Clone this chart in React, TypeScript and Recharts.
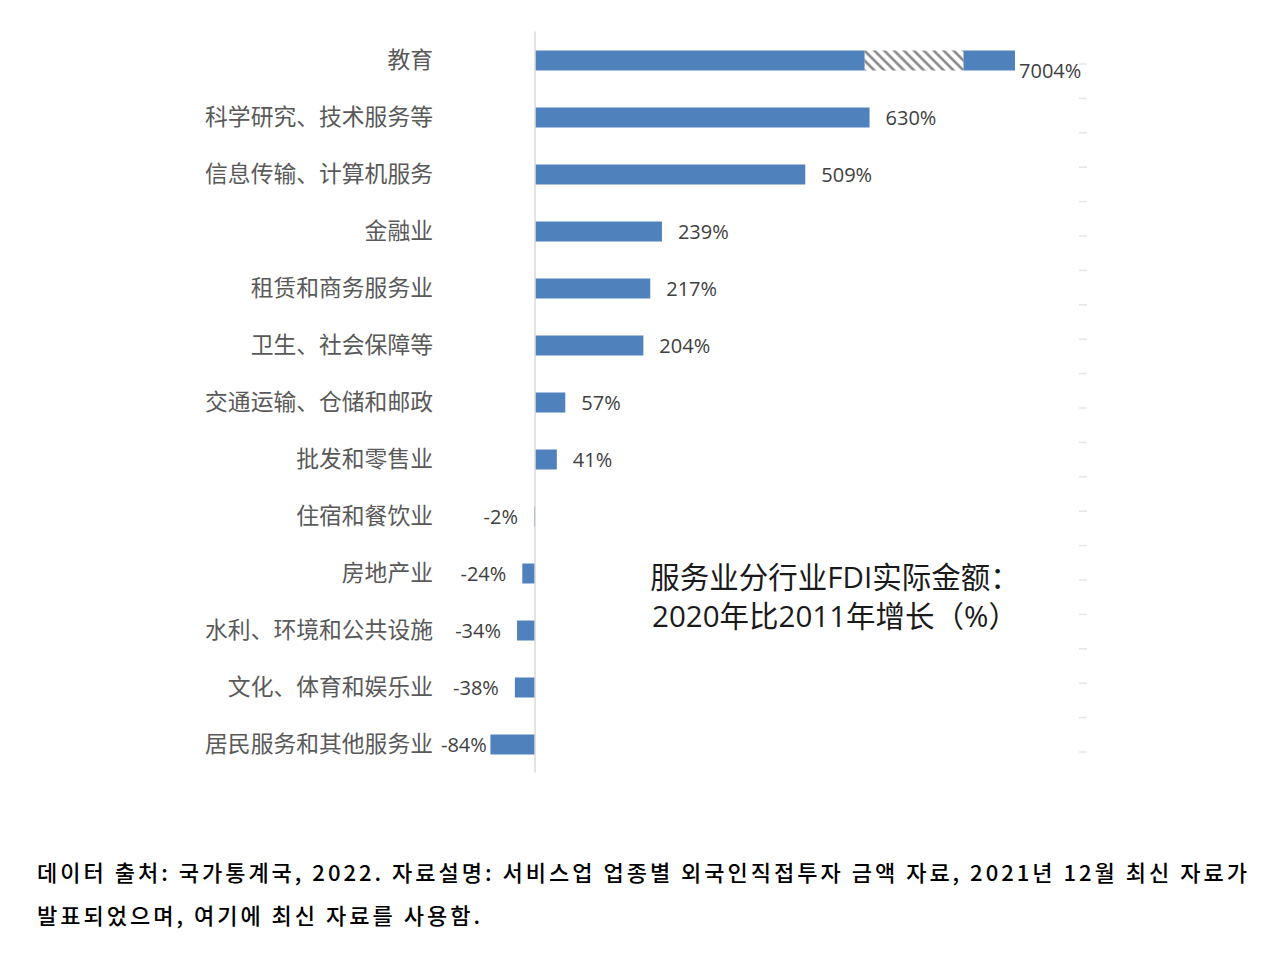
import React from 'react';
import { BarChart, Bar, XAxis, YAxis, ReferenceLine, LabelList } from 'recharts';

// ---------- data ----------
const categories = [
  '教育',
  '科学研究、技术服务等',
  '信息传输、计算机服务',
  '金融业',
  '租赁和商务服务业',
  '卫生、社会保障等',
  '交通运输、仓储和邮政',
  '批发和零售业',
  '住宿和餐饮业',
  '房地产业',
  '水利、环境和公共设施',
  '文化、体育和娱乐业',
  '居民服务和其他服务业',
];
const growthPct = [7004, 630, 509, 239, 217, 204, 57, 41, -2, -24, -34, -38, -84];
// 教育 is drawn with a broken bar: solid part, break (hatched) part, solid part (axis units)
const eduDrawnParts = [621, 186, 97];
const rightAxisTicks = [0, 1, 2, 3, 4, 5, 6, 7, 8, 9, 10, 11, 12, 13, 14, 15, 16, 17, 18, 19, 20];
const titleLines = ['服务业分行业FDI实际金额：', '2020年比2011年增长（%）'];
const footnoteLines = [
  '데이터 출처: 국가통계국, 2022. 자료설명: 서비스업 업종별 외국인직접투자 금액 자료, 2021년 12월 최신 자료가',
  '발표되었으며, 여기에 최신 자료를 사용함.',
];

const data = categories.map((name, i) => {
  const broken = i === 0;
  return {
    name,
    labelMain: broken ? undefined : `${growthPct[i]}%`,
    labelBroken: broken ? `${growthPct[i]}%` : undefined,
    seg1: broken ? eduDrawnParts[0] : growthPct[i],
    seg2: broken ? eduDrawnParts[1] : 0,
    seg3: broken ? eduDrawnParts[2] : 0,
  };
});
const rightAxisData = [{ k: 'r', v: 0 }];

// ---------- styles ----------
const BAR_COLOR = '#4F81BD';
const LABEL_FONT = 20;
const LABEL_LEFT_LIMIT = 436;
const LABEL_RIGHT_LIMIT = 1083;
const CHART_MARGIN = { top: 31.5, right: 201, bottom: 27.5, left: 0 };
const OVERLAY_MARGIN = { top: 31.5, right: 0, bottom: 27.5, left: 440 };

const estimateWidth = (t: string) => {
  let w = 0;
  for (const ch of t) w += ch === '%' ? LABEL_FONT * 0.83 : LABEL_FONT * 0.57;
  return w;
};

const renderValueLabel = (props: any) => {
  const { x, y, width, height, value } = props;
  if (value === undefined || value === null || value === '') return null;
  const text = String(value);
  const w = estimateWidth(text);
  const cy = Number(y) + Number(height) / 2;
  const left = Math.min(Number(x), Number(x) + Number(width));
  const right = Math.max(Number(x), Number(x) + Number(width));
  if (text.startsWith('-')) {
    const end = Math.max(left - 16, LABEL_LEFT_LIMIT + w);
    return (
      <text x={end} y={cy} textAnchor="end" dominantBaseline="central" fontSize={LABEL_FONT}
        fontFamily="'Open Sans', 'Noto Sans', sans-serif" fill="#404040">{text}</text>
    );
  }
  let start = right + 16;
  let dy = 0;
  if (start + w > LABEL_RIGHT_LIMIT) {
    start = right + 4;
    dy = 10;
  }
  return (
    <text x={start} y={cy + dy} textAnchor="start" dominantBaseline="central" fontSize={LABEL_FONT}
      fontFamily="'Open Sans', 'Noto Sans', sans-serif" fill="#404040">{text}</text>
  );
};

const CategoryTick = (props: any) => {
  const { x, y, payload } = props;
  return (
    <text x={x} y={Number(y) - 2} textAnchor="end" dominantBaseline="central" fontSize={22.8}
      fontFamily="'Noto Sans CJK SC', sans-serif" fill="#595959">{payload.value}</text>
  );
};

const EmptyTick = () => <g />;

export default function App() {
  return (
    <div style={{ position: 'absolute', left: 0, top: 0, width: 1280, height: 959, background: '#fff' }}>
      <svg width={0} height={0} style={{ position: 'absolute' }}>
        <defs>
          <pattern id="breakHatch" patternUnits="userSpaceOnUse" width={7} height={7} patternTransform="rotate(-45)">
            <rect x={0} y={0} width={7} height={7} fill="#ffffff" />
            <line x1={1.5} y1={0} x2={1.5} y2={7} stroke="#7f7f7f" strokeWidth={2.4} />
          </pattern>
        </defs>
      </svg>
      <div style={{ position: 'absolute', left: 0, top: 0 }}>
        <BarChart width={1280} height={800} data={data} layout="vertical" margin={CHART_MARGIN} barSize={20}>
          <XAxis type="number" domain={[-179, 1024.5]} allowDataOverflow hide />
          <YAxis
            type="category"
            dataKey="name"
            width={440}
            axisLine={false}
            tickLine={false}
            tickSize={0}
            tickMargin={7}
            interval={0}
            tick={<CategoryTick />}
          />
          <ReferenceLine x={0} stroke="#d9d9d9" strokeWidth={1.5} />
          <Bar dataKey="seg1" stackId="a" fill={BAR_COLOR} isAnimationActive={false}>
            <LabelList dataKey="labelMain" content={renderValueLabel} />
          </Bar>
          <Bar dataKey="seg2" stackId="a" fill="url(#breakHatch)" isAnimationActive={false} />
          <Bar dataKey="seg3" stackId="a" fill={BAR_COLOR} isAnimationActive={false}>
            <LabelList dataKey="labelBroken" content={renderValueLabel} />
          </Bar>
        </BarChart>
      </div>
      {/* secondary (right) axis: only faint tick marks */}
      <div style={{ position: 'absolute', left: 0, top: 0, pointerEvents: 'none' }}>
        <BarChart width={1280} height={800} data={rightAxisData} margin={OVERLAY_MARGIN}>
          <XAxis dataKey="k" hide />
          <YAxis
            yAxisId="right"
            type="number"
            orientation="right"
            width={201}
            domain={[-0.596, 20.945]}
            allowDataOverflow
            ticks={rightAxisTicks}
            interval={0}
            axisLine={false}
            tick={<EmptyTick />}
            tickSize={8}
            tickLine={{ stroke: '#e6e6e6', strokeWidth: 1.5 }}
          />
          <Bar dataKey="v" yAxisId="right" fill="none" isAnimationActive={false} />
        </BarChart>
      </div>
      {titleLines.map((t, i) => (
        <div
          key={i}
          style={{
            position: 'absolute',
            left: 535,
            width: 600,
            top: 557 + i * 39,
            height: 40,
            lineHeight: '40px',
            textAlign: 'center',
            fontSize: 29.5,
            fontFamily: "'Open Sans', 'Noto Sans CJK SC', sans-serif",
            color: '#1a1a1a',
            whiteSpace: 'nowrap',
          }}
        >
          {t}
        </div>
      ))}
      {footnoteLines.map((t, i) => (
        <div
          key={i}
          style={{
            position: 'absolute',
            left: 37,
            top: 850 + i * 43,
            height: 42,
            lineHeight: '42px',
            fontSize: 22,
            letterSpacing: 3,
            fontWeight: 500,
            fontFamily: "'Noto Sans CJK KR', sans-serif",
            color: '#000',
            whiteSpace: 'nowrap',
          }}
        >
          {t}
        </div>
      ))}
    </div>
  );
}
